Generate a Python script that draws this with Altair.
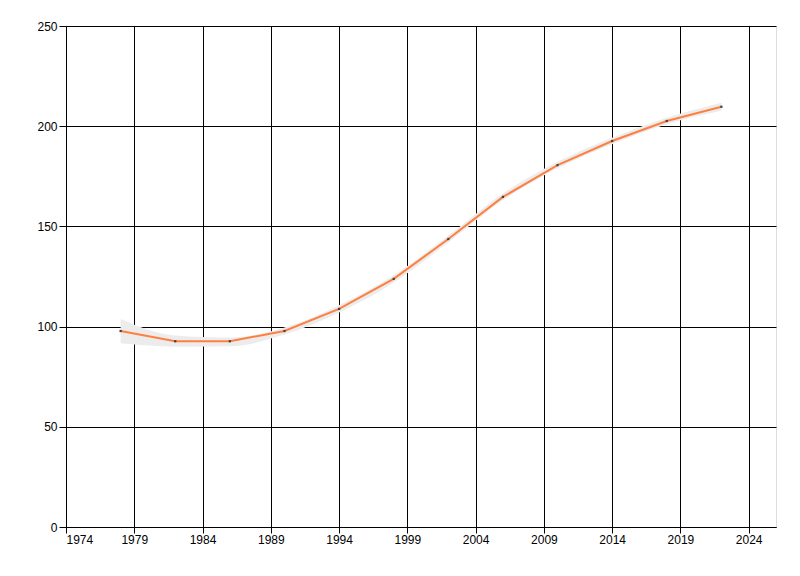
import altair as alt
import pandas as pd

years = [1978, 1982, 1986, 1990, 1994, 1998, 2002, 2006, 2010, 2014, 2018, 2022]
values = [97.8, 92.7, 92.7, 97.8, 108.8, 123.8, 143.7, 164.7, 180.6, 192.6, 202.6, 209.7]
lower = [91.7, 90.0, 90.2, 96.0, 107.0, 122.0, 142.0, 163.0, 179.0, 191.0, 201.0, 207.7]
upper = [103.8, 95.5, 94.5, 99.5, 110.6, 125.6, 145.4, 166.4, 182.2, 194.2, 204.2, 211.7]

x_ticks = [1974, 1979, 1984, 1989, 1994, 1999, 2004, 2009, 2014, 2019, 2024]
y_ticks = [0, 50, 100, 150, 200, 250]

df = pd.DataFrame({"year": years, "value": values, "lo": lower, "hi": upper})

xs = alt.Scale(domain=[1974, 2026], nice=False, zero=False)
ys = alt.Scale(domain=[0, 250], nice=False)

xaxis = alt.Axis(values=x_ticks, format="d", title=None, grid=True, gridColor="#000000",
                 gridOpacity=1, gridWidth=1, domainColor="#000000", tickColor="#000000",
                 tickSize=6, labelFont="Liberation Sans", labelFontSize=12, labelColor="#000000",
                 labelPadding=1)
yaxis = alt.Axis(values=y_ticks, title=None, grid=True, gridColor="#000000",
                 gridOpacity=1, gridWidth=1, domainColor="#000000", tickColor="#000000",
                 tickSize=7, labelFont="Liberation Sans", labelFontSize=12, labelColor="#000000",
                 labelPadding=2)

base = alt.Chart(df)

band = base.mark_area(color="#ececec", opacity=1, interpolate="monotone").encode(
    x=alt.X("year:Q", scale=xs, axis=xaxis),
    y=alt.Y("lo:Q", scale=ys, axis=yaxis),
    y2="hi:Q",
)

line = base.mark_line(color="#ff7f3f", strokeWidth=2).encode(
    x=alt.X("year:Q", scale=xs),
    y=alt.Y("value:Q", scale=ys),
)

pts = base.mark_square(color="#444444", size=5, opacity=1).encode(
    x=alt.X("year:Q", scale=xs),
    y=alt.Y("value:Q", scale=ys),
)

chart = (band + line + pts).properties(
    width=710, height=501,
    autosize=alt.AutoSizeParams(type="none"),
    padding={"left": 58, "top": 18, "right": 10, "bottom": 40},
).configure_view(stroke=None).configure(background="#ffffff")

chart.save("out.html", embed_options={"renderer": "svg", "actions": False})
